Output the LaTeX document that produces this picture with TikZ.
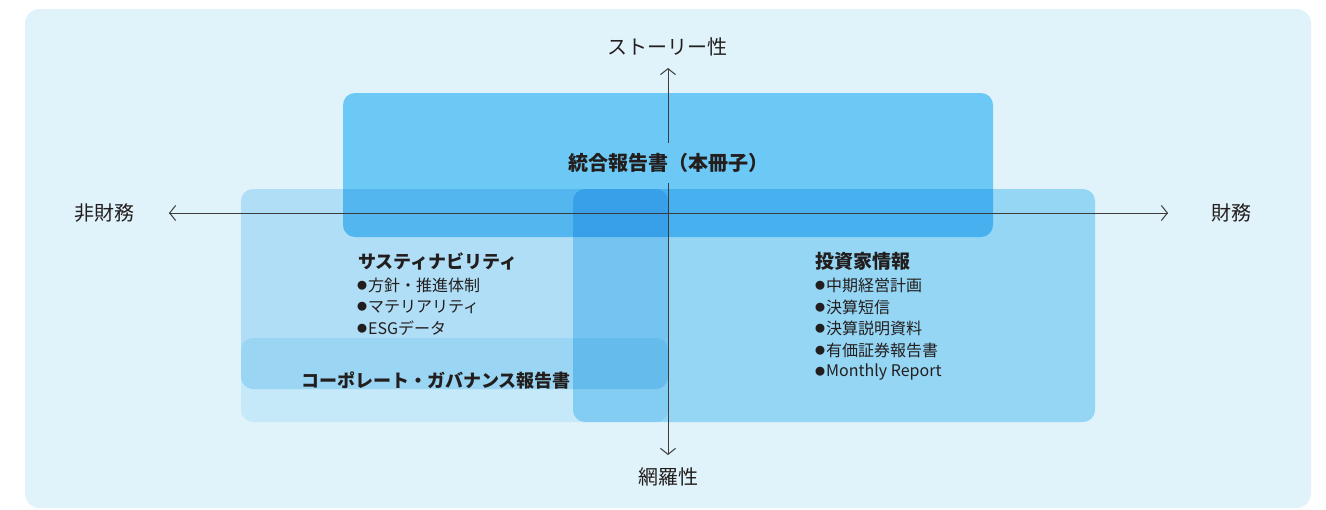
\documentclass[tikz,border=0pt]{standalone}
\usepackage{fontspec}
\setmainfont{Noto Sans CJK JP}
\usetikzlibrary{arrows.meta}
\definecolor{panel}{RGB}{224,243,251}
\definecolor{topblue}{RGB}{123,210,248}
\definecolor{invblue}{RGB}{170,225,249}
\definecolor{susblue}{RGB}{200,234,250}
\definecolor{govblue}{RGB}{225,245,252}
\definecolor{ink}{RGB}{35,30,30}
\definecolor{axis}{RGB}{60,60,60}
\tikzset{
  box/.style={rounded corners=12pt},
  axisline/.style={draw=axis,line width=1pt,-{Straight Barb[length=6pt,width=15pt,line width=1pt]}},
  axislabel/.style={text=ink,font=\fontsize{20}{24}\selectfont,inner sep=0pt},
  head/.style={text=ink,font=\bfseries\fontsize{18}{22}\selectfont,inner sep=0pt,anchor=west},
  item/.style={text=ink,font=\fontsize{16}{20}\selectfont,inner sep=0pt,anchor=west},
}
\newcommand{\bul}{\raisebox{1.5pt}{\fontsize{10}{10}\selectfont ●}\hspace{1pt}}
\begin{document}
\begin{tikzpicture}[x=1pt,y=-1pt]
\useasboundingbox (0,0) rectangle (1326,509);
\fill[panel,rounded corners=14pt] (25,9) rectangle (1311,508);
% boxes (multiply blending)
\begin{scope}[blend mode=multiply]
\fill[box,fill=susblue] (241,189) rectangle (668,389);
\fill[box,fill=govblue] (241,338) rectangle (668,422);
\fill[box,fill=invblue] (573,189) rectangle (1095,422);
\fill[box,fill=topblue] (343,93) rectangle (993,237);
\end{scope}
% axes
\coordinate (xl) at (169,213);
\coordinate (xr) at (1168,213);
\coordinate (yt) at (668,68);
\coordinate (yb) at (668,455);
\node[text=ink,font=\bfseries\fontsize{20}{24}\selectfont,minimum height=40pt,inner sep=0pt] (title) at (668,163) {統合報告書（本冊子）};
\draw[axisline] (xr) -- (xl);
\draw[axisline] (xl) -- (xr);
\draw[axisline] (title.north) -- (yt);
\draw[axisline] (title.south) -- (yb);
% axis labels
\node[axislabel] (story) at (667,47) {ストーリー性};
\node[axislabel] (mou) at (668,477) {網羅性};
\node[axislabel] (hizai) at (104,213) {非財務};
\node[axislabel] (zai) at (1231,213) {財務};
% sustainability
\node[head] (sus) at (358,261) {サスティナビリティ};
\node[item] (s1) at (357,285) {\bul 方針・推進体制};
\node[item] (s2) at (357,307) {\bul マテリアリティ};
\node[item] (s3) at (357,328) {\bul ESGデータ};
% governance
\node[head] (gov) at (301,381) {コーポレート・ガバナンス報告書};
% investor
\node[head,font=\bfseries\fontsize{19}{22}\selectfont] (inv) at (815,261) {投資家情報};
\node[item] (i1) at (815,285) {\bul 中期経営計画};
\node[item] (i2) at (815,307) {\bul 決算短信};
\node[item] (i3) at (815,328) {\bul 決算説明資料};
\node[item] (i4) at (815,350) {\bul 有価証券報告書};
\node[item] (i5) at (815,372) {\bul Monthly Report};
\end{tikzpicture}
\end{document}
